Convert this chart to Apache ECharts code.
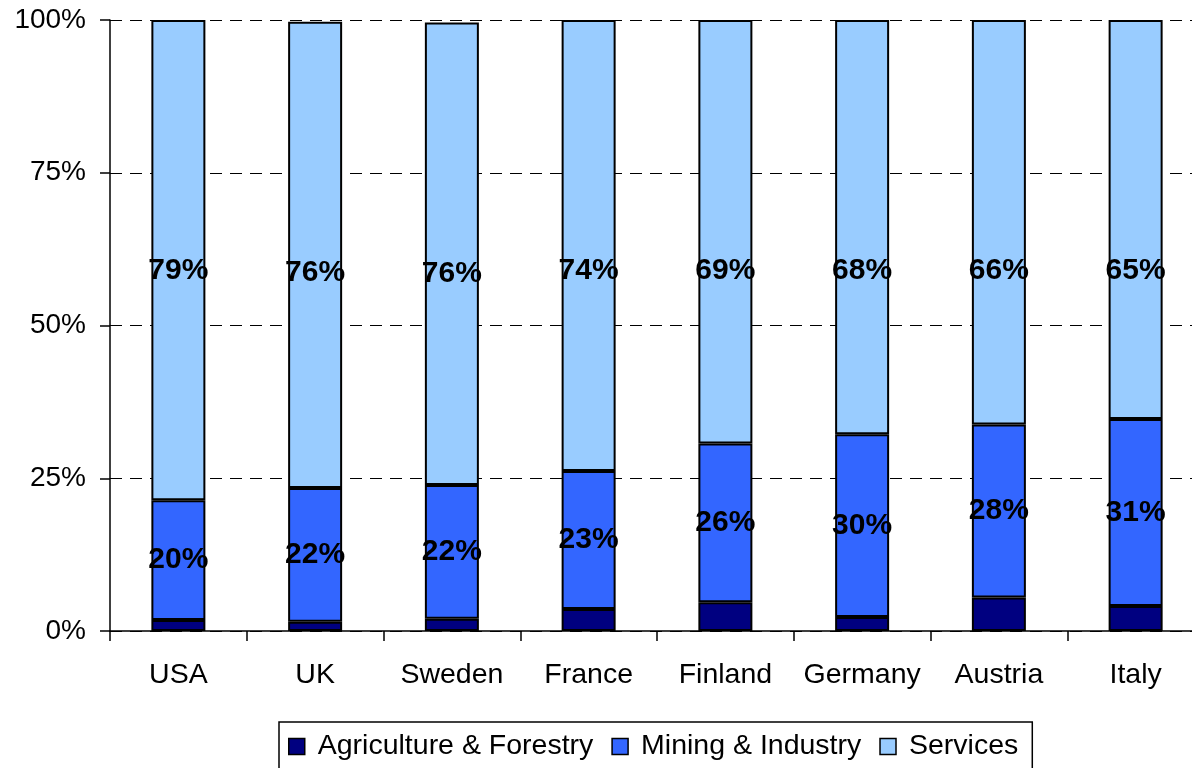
<!DOCTYPE html>
<html>
<head>
<meta charset="utf-8">
<script src="https://cdn.jsdelivr.net/npm/echarts@6/dist/echarts.min.js"></script>
<style>
  html, body { margin: 0; padding: 0; background: #fff; }
  #main { width: 1192px; height: 768px; }
</style>
</head>
<body>
<div id="main"></div>
<script>
const countries = ["USA", "UK", "Sweden", "France", "Finland", "Germany", "Austria", "Italy"];
const agriculture = [1.8, 1.5, 2.0, 3.6, 4.7, 2.3, 5.5, 4.1];
const industry = [19.6, 21.9, 21.9, 22.6, 26.0, 29.9, 28.3, 30.6];
const services = [78.6, 76.3, 75.7, 73.8, 69.3, 67.8, 66.2, 65.3];
const yTicks = [0, 25, 50, 75, 100];

const font = "'Liberation Sans', Arial, sans-serif";
const pct = (p) => Math.round(p.value) + "%";

const labelStyle = {
  show: true,
  color: "#000",
  fontFamily: font,
  fontSize: 30,
  fontWeight: "bold",
  formatter: pct
};

function bar(name, data, color, label) {
  return {
    name: name,
    type: "bar",
    stack: "total",
    barWidth: 54,
    data: data,
    itemStyle: { color: color, borderColor: "#000", borderWidth: 2 },
    label: label,
    emphasis: { disabled: true }
  };
}

const options = {
  animation: false,
  textStyle: { fontFamily: font },
  grid: {
    left: 110,
    top: 20,
    right: -12,
    bottom: 137,
    outerBoundsMode: "none"
  },
  legend: {
    left: 279,
    top: 722,
    orient: "horizontal",
    icon: "rect",
    itemWidth: 16,
    itemHeight: 16,
    itemGap: 18,
    padding: [10, 14, 30, 9],
    borderColor: "#000",
    borderWidth: 1.5,
    itemStyle: { borderColor: "#000", borderWidth: 1.5 },
    textStyle: { fontFamily: font, fontSize: 28.5, color: "#000", padding: [0, 0, 0, 8] }
  },
  xAxis: {
    type: "category",
    data: countries,
    axisLine: { lineStyle: { color: "#000", width: 1.5 } },
    axisTick: { show: true, interval: 0, length: 10, lineStyle: { color: "#000", width: 1.5 } },
    axisLabel: { interval: 0, color: "#000", fontFamily: font, fontSize: 28.5, margin: 30 }
  },
  yAxis: {
    type: "value",
    min: yTicks[0],
    max: yTicks[yTicks.length - 1],
    interval: 25,
    axisLine: { show: true, lineStyle: { color: "#000", width: 1.5 } },
    axisTick: { show: true, length: 10, lineStyle: { color: "#000", width: 1.5 } },
    axisLabel: { color: "#000", fontFamily: font, fontSize: 28, margin: 24, formatter: "{value}%" },
    splitLine: { show: true, lineStyle: { color: "#000", width: 1, type: [12, 8] } }
  },
  series: [
    bar("Agriculture & Forestry", agriculture, "#000080", { show: false }),
    bar("Mining & Industry", industry, "#3366FF", Object.assign({ position: "inside" }, labelStyle)),
    bar("Services", services, "#99CCFF", Object.assign({ position: "insideTop", distance: 236 }, labelStyle))
  ]
};

const myChart = echarts.init(document.getElementById("main"), null, { renderer: "canvas" });
myChart.setOption(options);
window.onresize = function() {
  myChart.resize();
};
</script>
</body>
</html>
